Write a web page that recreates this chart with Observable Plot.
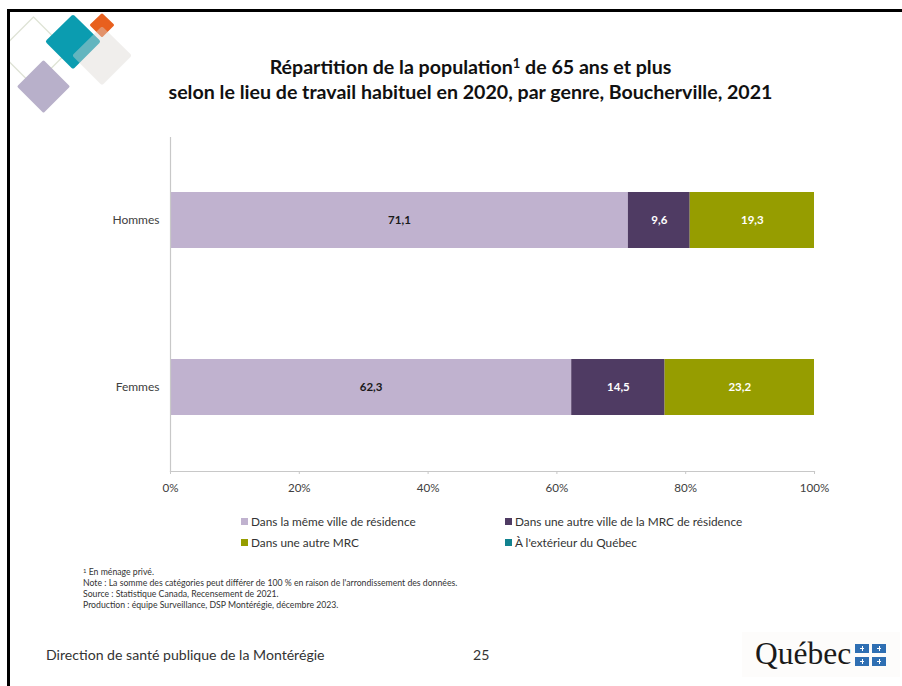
<!DOCTYPE html>
<html lang="fr">
<head>
<meta charset="utf-8">
<script src="https://cdn.jsdelivr.net/npm/d3@7"></script>
<script src="https://cdn.jsdelivr.net/npm/@observablehq/plot@0.6"></script>
<style>
html,body{margin:0;padding:0;background:#fff;}
#page{position:relative;width:902px;height:686px;overflow:hidden;background:#fff;font-family:Lato,sans-serif;}
#page>*{position:absolute;}
#frameT{left:7px;top:9px;width:895px;height:2.5px;background:#000;}
#frameL{left:7px;top:9px;width:2.5px;height:677px;background:#000;}
#title{left:0;top:54px;width:941px;text-align:center;font-weight:700;font-size:19.6px;line-height:25px;color:#111;}
#title sup{font-size:13px;line-height:0;vertical-align:6px;}
.leg{font-size:11.8px;color:#333;white-space:nowrap;line-height:14px;}
.sw{width:7px;height:7px;}
#notes{left:83px;top:567px;font-size:8.7px;line-height:10.9px;color:#333;white-space:nowrap;}
#notes sup{font-size:6px;line-height:0;vertical-align:2px;}
#foot{left:46px;top:646px;font-size:14.1px;line-height:18px;color:#333;white-space:nowrap;}
#num{left:473px;top:646px;font-size:14.1px;line-height:18px;color:#333;}
#logoBg{left:742px;top:632px;width:158px;height:45px;background:#fdfcfb;}
#logo{left:755px;top:632px;font-family:"Liberation Serif",serif;font-size:31.5px;line-height:44px;color:#1a1a1a;}
.fl{width:14px;height:8.5px;background:#2f6fb3;}
.fl::before{content:"";position:absolute;left:5px;top:3.5px;width:4px;height:1.5px;background:#fff;}
.fl::after{content:"";position:absolute;left:6.5px;top:2px;width:1px;height:4.5px;background:#fff;}
svg{display:block;}
</style>
</head>
<body>
<div id="page">
  <svg id="deco" width="131" height="120" viewBox="9 0 131 120" style="left:9px;top:0" aria-hidden="true">
    <g stroke-linejoin="round">
      <path d="M33.5 17 L68 51.5 L33.5 86 L-1 51.5Z" fill="none" stroke="#dfe3d6" stroke-width="1.3"/>
      <path d="M43.5 62 L68 86.5 L43.5 111 L19 86.5Z" fill="#b8b0ca" stroke="#b8b0ca" stroke-width="3"/>
      <path d="M102 15 L112.5 25 L102 35.5 L91.5 25Z" fill="#e8601e" stroke="#e8601e" stroke-width="3"/>
      <path d="M73 17 L98 41.5 L73 66.5 L48 41.5Z" fill="#0b9cb0" stroke="#0b9cb0" stroke-width="4"/>
      <path d="M102 29 L129 55.5 L102 82.5 L75 55.5Z" fill="#dcd8d4" stroke="#dcd8d4" stroke-width="4" opacity=".42"/>
    </g>
  </svg>
  <div id="frameT"></div><div id="frameL"></div>
  <div id="title">Répartition de la population<sup>1</sup> de 65 ans et plus<br>selon le lieu de travail habituel en 2020, par genre, Boucherville, 2021</div>
  <div id="chart" style="left:0;top:0"></div>
  <div id="legend" style="left:0;top:0;width:0;height:0"></div>
  <div id="notes"><sup>1</sup> En ménage privé.<br>Note : La somme des catégories peut différer de 100 % en raison de l'arrondissement des données.<br>Source : Statistique Canada, Recensement de 2021.<br>Production : équipe Surveillance, DSP Montérégie, décembre 2023.</div>
  <div id="foot">Direction de santé publique de la Montérégie</div>
  <div id="num">25</div>
  <div id="logoBg"></div>
  <div id="logo">Québec</div>
  <div class="fl" style="left:855px;top:644px"></div>
  <div class="fl" style="left:872px;top:644px"></div>
  <div class="fl" style="left:855px;top:657px"></div>
  <div class="fl" style="left:872px;top:657px"></div>
</div>
<script>
const genres = ["Hommes", "Femmes"];
const categories = [
  "Dans la même ville de résidence",
  "Dans une autre ville de la MRC de résidence",
  "Dans une autre MRC",
  "À l'extérieur du Québec"
];
const hommes = [71.1, 9.6, 19.3, 0];
const femmes = [62.3, 14.5, 23.2, 0];
const colors = ["#c0b2cf", "#4f3b63", "#969d00", "#12828f"];
const labelColors = ["#1a1a1a", "#ffffff", "#ffffff", "#ffffff"];
const xTicks = [0, 20, 40, 60, 80, 100];

const rows = [];
categories.forEach((serie, i) => {
  rows.push({genre: genres[0], serie, value: hommes[i], idx: i});
  rows.push({genre: genres[1], serie, value: femmes[i], idx: i});
});
const fr = d3.format(".1f");

const chart = Plot.plot({
  width: 902,
  height: 686,
  marginLeft: 170,
  marginRight: 88,
  marginTop: 137,
  marginBottom: 215,
  style: {background: "transparent", fontFamily: "Lato, sans-serif", overflow: "visible"},
  x: {domain: [0, 100], ticks: xTicks, label: null},
  y: {domain: genres, label: null, paddingInner: 0.665, paddingOuter: 0.3325, align: 0.495},
  color: {domain: categories, range: colors},
  marks: [
    Plot.barX(rows, {x: "value", y: "genre", fill: "serie", order: categories}),
    Plot.frame({anchor: "left", stroke: "#c8c8c8", strokeWidth: 1.2, strokeOpacity: 1}),
    Plot.frame({anchor: "bottom", stroke: "#c8c8c8", strokeWidth: 1.2, strokeOpacity: 1}),
    Plot.axisX({anchor: "bottom", ticks: xTicks, tickFormat: d => d + "%", tickSize: 3, tickPadding: 9,
      stroke: "#c8c8c8", color: "#404040", fontSize: 11.6, label: null}),
    Plot.axisY({anchor: "left", tickSize: 0, tickPadding: 11, color: "#404040", fontSize: 12, label: null}),
    Plot.text(rows.filter(d => d.value > 0), Plot.stackX({
      x: "value", y: "genre", z: "serie", order: categories,
      text: d => fr(d.value).replace(".", ","),
      fill: {value: d => labelColors[d.idx], scale: null},
      fontSize: 11.5, fontWeight: 700
    }))
  ]
});
document.getElementById("chart").appendChild(chart);

const legendPos = [[241, 515], [505, 515], [241, 536], [505, 536]];
const lg = document.getElementById("legend");
categories.forEach((c, i) => {
  const [x, y] = legendPos[i];
  const sw = document.createElement("div");
  sw.className = "sw";
  sw.style.cssText = `position:absolute;left:${x}px;top:${y + 3}px;background:${colors[i]}`;
  const t = document.createElement("div");
  t.className = "leg";
  t.textContent = c;
  t.style.cssText = `position:absolute;left:${x + 10}px;top:${y}px`;
  lg.append(sw, t);
});
</script>
</body>
</html>
